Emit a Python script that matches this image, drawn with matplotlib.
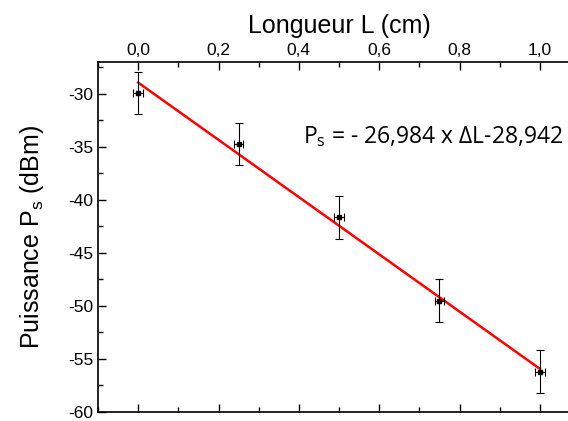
import matplotlib.pyplot as plt
from matplotlib.ticker import MultipleLocator, FuncFormatter

# data
longueur = [0.0, 0.25, 0.5, 0.75, 1.0]
puissance = [-29.9, -34.75, -41.65, -49.5, -56.2]
err_y = [2.0, 2.0, 2.0, 2.0, 2.0]
err_x = [0.012, 0.012, 0.012, 0.012, 0.012]
pente = -26.984
origine = -28.942
fit_x = [0.0, 1.0]

plt.rcParams['font.family'] = ['Liberation Sans', 'DejaVu Sans']

fig = plt.figure(figsize=(5.68, 4.21), dpi=100)
ax = fig.add_axes([98 / 568, 9 / 421, 482 / 568, 350 / 421])

ax.errorbar(longueur, puissance, yerr=err_y, xerr=err_x, fmt='s', color='black',
            markersize=3, ecolor='black', elinewidth=0.8, capsize=3, capthick=0.8, zorder=3)
ax.plot(fit_x, [pente * x + origine for x in fit_x], color='red', linewidth=1.8, zorder=2)

ax.set_xlim(-0.1, 1.1)
ax.set_ylim(-60, -27)

ax.xaxis.set_label_position('top')
ax.xaxis.tick_top()
ax.set_xlabel('Longueur L (cm)', fontsize=18, labelpad=7)
ax.set_ylabel('Puissance P$_\\mathregular{s}$ (dBm)', fontsize=18, labelpad=16)

ax.xaxis.set_major_locator(MultipleLocator(0.2))
ax.xaxis.set_minor_locator(MultipleLocator(0.1))
ax.yaxis.set_major_locator(MultipleLocator(5))
ax.yaxis.set_minor_locator(MultipleLocator(2.5))
ax.xaxis.set_major_formatter(FuncFormatter(lambda v, p: f'{v:.1f}'.replace('.', ',').replace('-0,0', '0,0')))
ax.yaxis.set_major_formatter(FuncFormatter(lambda v, p: f'{v:.0f}'.replace('\u2212', '-')))

ax.tick_params(axis='x', which='both', direction='in', top=True, bottom=True, labeltop=True,
               labelbottom=False, labelsize=12.5, pad=3)
ax.tick_params(axis='y', which='both', direction='in', left=True, right=False, labelsize=12.5)
ax.tick_params(which='major', length=6, width=1)
ax.tick_params(which='minor', length=3.5, width=1)
for s in ax.spines.values():
    s.set_linewidth(1.2)

ax.text(0.41, -34.0, 'P$_\\mathregular{s}$ = - 26,984 x \u0394L-28,942', fontsize=16.5,
        family=['Open Sans', 'DejaVu Sans'], va='center', ha='left')

fig.savefig('out.png', dpi=100)
